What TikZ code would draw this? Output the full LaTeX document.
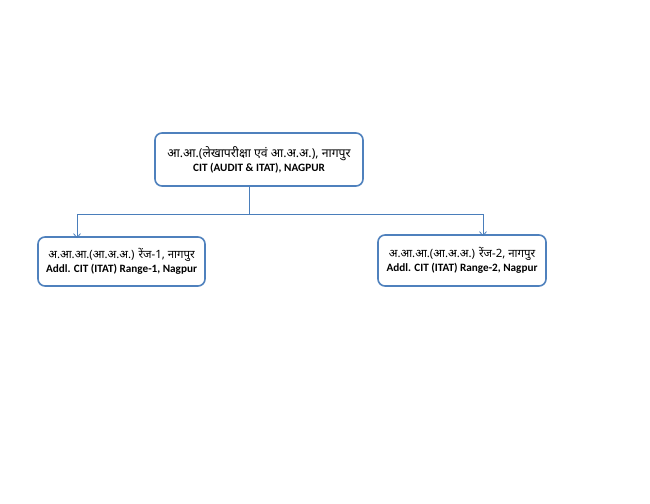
\documentclass[tikz,border=0pt]{standalone}
\usepackage{fontspec}
\setmainfont{Carlito}
\newfontfamily\hindifont[Script=Devanagari]{Noto Sans}
\usetikzlibrary{arrows.meta,positioning}

\definecolor{boxblue}{HTML}{4F81BD}
\definecolor{linkblue}{HTML}{4A7EBB}

\newcommand{\hin}[2][12.2]{{\hindifont\fontsize{#1}{15}\selectfont #2}}
\newcommand{\eng}[1]{{\bfseries\fontsize{11.2}{13}\selectfont #1}}

\begin{document}
\begin{tikzpicture}[
  x=1pt, y=-1pt,
  office/.style={draw=boxblue, line width=1.6pt, rounded corners=7pt, fill=white, align=center, inner sep=2pt},
  link/.style={draw=linkblue, line width=0.8pt},
  arrow/.style={link, -{Straight Barb[length=4pt, width=7pt]}}
]
\useasboundingbox (0,0) rectangle (650,503);

\node[office, minimum width=208pt, minimum height=53pt] (cit) at (259,159.5)
  {\hin{आ.आ.(लेखापरीक्षा एवं आ.अ.अ.), नागपुर}\\[2pt] \eng{CIT (AUDIT \& ITAT), NAGPUR}};
\node[office, minimum width=167pt, minimum height=49pt] (range1) at (121.5,261.5)
  {\hin[11.4]{अ.आ.आ.(आ.अ.अ.) रेंज-1, नागपुर}\\[2pt] \eng{Addl. CIT (ITAT) Range-1, Nagpur}};
\node[office, minimum width=168pt, minimum height=51pt] (range2) at (462,260.5)
  {\hin[11.4]{अ.आ.आ.(आ.अ.अ.) रेंज-2, नागपुर}\\[2pt] \eng{Addl. CIT (ITAT) Range-2, Nagpur}};

\draw[link] ([xshift=-10pt]cit.south) -- ++(0,28) coordinate (fork);
\draw[arrow] (fork) -| ([xshift=-44.5pt, yshift=-2pt]range1.north);
\draw[arrow] (fork) -| ([xshift=21pt, yshift=-2pt]range2.north);
\end{tikzpicture}
\end{document}
